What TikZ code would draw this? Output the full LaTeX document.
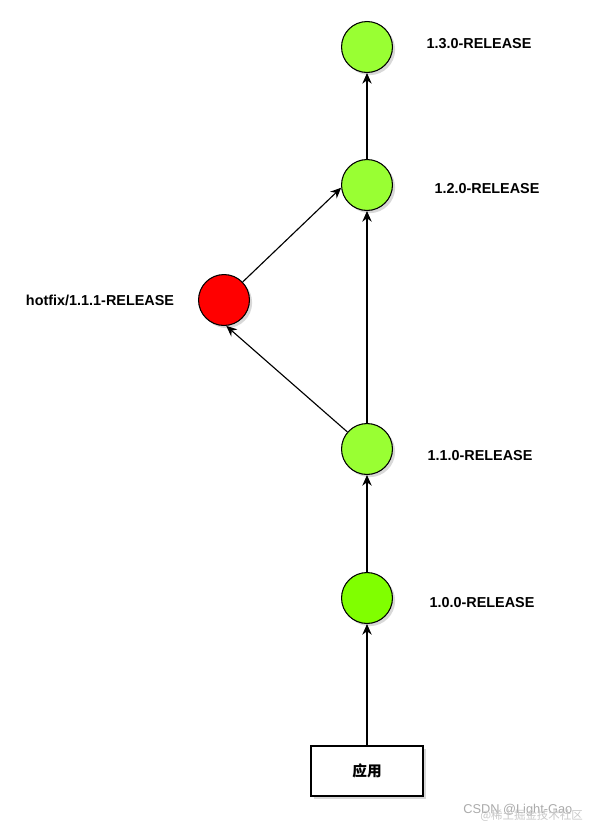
\documentclass[tikz,border=0pt]{standalone}
\usepackage{fontspec}
\setmainfont{Liberation Sans}
\newfontfamily\cjk{Noto Sans CJK SC}
\usetikzlibrary{arrows.meta,positioning,shadows}
\definecolor{relc}{HTML}{99FF33}
\definecolor{basec}{HTML}{80FF00}
\definecolor{hotc}{HTML}{FF0000}
\definecolor{markc}{HTML}{ABABAB}
\definecolor{markc2}{HTML}{C9C9C9}
\tikzset{
  >={Stealth[length=8pt,width=7pt,inset=2.6pt]},
  shd/.style={drop shadow={shadow xshift=2pt,shadow yshift=-2pt,opacity=0.3,fill=gray}},
  rel/.style={circle,draw=black,line width=0.8pt,fill=relc,minimum size=38.2pt,inner sep=0pt,shd},
  hot/.style={rel,fill=hotc},
  appbox/.style={draw=black,line width=0.8pt,fill=white,minimum width=84pt,minimum height=37.5pt,inner sep=0pt,font=\cjk\bfseries\fontsize{11}{13}\selectfont,shd},
  lbl/.style={font=\bfseries\fontsize{10.8}{12}\selectfont,inner sep=1pt},
  ptr/.style={->,line width=0.85pt,draw=black},
  wm/.style={font=\fontsize{9.6}{12}\selectfont,inner sep=0pt},
}
\begin{document}
\begin{tikzpicture}[x=0.75pt,y=-0.75pt]
  \useasboundingbox[fill=white] (0,0) rectangle (596,828);
  % releases
  \node[rel] (r130) at (367,47) {};
  \node[rel] (r120) at (367,185) {};
  \node[hot] (h111) at (224,300) {};
  \node[rel] (r110) at (367,449) {};
  \node[rel,fill=basec] (r100) at (367,598) {};
  \node[appbox] (app) at (367,771) {应用};
  \foreach \n/\x/\y/\t in {130/479/44/1.3.0-RELEASE,120/487/189/1.2.0-RELEASE,
      111/100/300/hotfix\slash 1.1.1-RELEASE,110/480/456/1.1.0-RELEASE,100/482/603/1.0.0-RELEASE}
    \node[lbl] (l\n) at (\x,\y) {\t};
  % connectors
  \draw[ptr] (app) -- (r100);
  \draw[ptr] (r100) -- (r110);
  \draw[ptr] (r110) -- (r120);
  \draw[ptr] (r120) -- (r130);
  \draw[ptr] (r110.139) -- (h111.275);
  \draw[ptr] (h111.44) -- (r120.186);
  % watermark
  \node[wm,text=markc,anchor=west] (wm1) at (463,810) {CSDN @Light-Gao};
  \node[wm,text=markc2,anchor=west,font=\cjk\fontsize{8.6}{10}\selectfont] (wm2) at (480,816) {@稀土掘金技术社区};
\end{tikzpicture}
\end{document}
